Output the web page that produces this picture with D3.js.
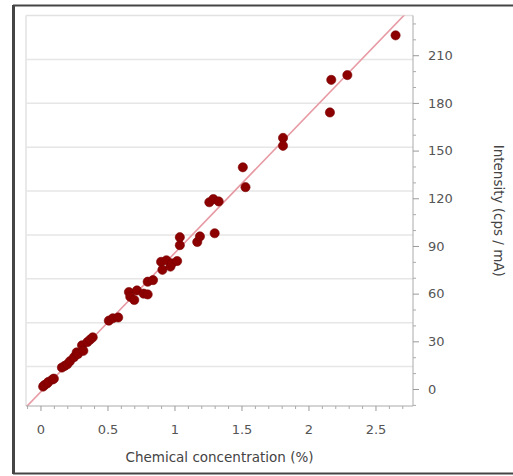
<!DOCTYPE html>
<html>
<head>
<meta charset="utf-8">
<script src="https://cdn.jsdelivr.net/npm/d3@7"></script>
<style>
  html, body { margin: 0; padding: 0; background: #fff; }
  svg { display: block; }
  text { font-family: "DejaVu Sans", Verdana, sans-serif; }
</style>
</head>
<body>
<svg id="chart" width="513" height="476"></svg>
<script>
// ---- data ----
const concentration = [0.02,0.03,0.05,0.06,0.09,0.10,0.16,0.18,0.20,0.22,0.25,0.27,0.28,0.31,0.32,0.35,0.37,0.39,
  0.51,0.54,0.58,0.66,0.67,0.70,0.72,0.77,0.80,0.80,0.84,0.90,0.91,0.94,0.97,0.98,1.02,1.04,1.04,1.17,1.19,1.30,
  1.26,1.29,1.33,1.51,1.53,1.81,1.81,2.16,2.17,2.29,2.65];
const intensity = [1.5,2.5,3.5,4.5,6,6.5,13.5,14.5,15.5,17.5,20,23,22,27.5,24,29.5,31,32.5,
  43,44.5,45,61,58,56,62,60,59.5,67.5,68.5,80,75,81,77,79,80.5,90.5,95.5,92.5,96,98,
  117.5,119.5,118,139.5,127,158,153,174,194.5,197.5,222.5];
const xTicks = [0, 0.5, 1, 1.5, 2, 2.5];
const xTickLabels = ["0", "0.5", "1", "1.5", "2", "2.5"];
const xMinorTicks = d3.range(-1, 28).map(i => i / 10);
const yTicks = [0, 30, 60, 90, 120, 150, 180, 210];
const yMinorTicks = d3.range(-1, 24).map(i => i * 10);
const gridSteps = [0, 1, 2, 3, 4, 5, 6, 7];
const fitSlope = 87.4;
const fitIntercept = -2.0;
const xTitle = "Chemical concentration (%)";
const yTitle = "Intensity (cps / mA)";

// ---- layout ----
const svg = d3.select("#chart");
const L = 26, R = 413, T = 15.5, B = 406;

const x = d3.scaleLinear().domain([-0.108, 2.78]).range([L, R]);
const y = d3.scaleLinear().domain([-10.7, 235]).range([B, T]);
const yGrid = d3.scaleLinear().domain([-0.9, 8]).range([B, T]);

// outer frame
svg.append("rect").attr("x", 14).attr("y", 5.5).attr("width", 520).attr("height", 468)
  .attr("fill", "none").attr("stroke", "#454545").attr("stroke-width", 2);
svg.append("line").attr("x1", 13.5).attr("x2", 13.5).attr("y1", 5).attr("y2", 474)
  .attr("stroke", "#454545").attr("stroke-width", 3);

// plot borders (left/top)
svg.append("line").attr("x1", L).attr("x2", L).attr("y1", T).attr("y2", B)
  .attr("stroke", "#e2e2e2").attr("stroke-width", 1.5);
svg.append("line").attr("x1", L).attr("x2", R).attr("y1", T).attr("y2", T)
  .attr("stroke", "#e2e2e2").attr("stroke-width", 1.5);

// gridlines
svg.append("g").selectAll("line").data(gridSteps).join("line")
  .attr("x1", L).attr("x2", R)
  .attr("y1", d => yGrid(d)).attr("y2", d => yGrid(d))
  .attr("stroke", "#e6e6e6").attr("stroke-width", 1.5);

// clip
svg.append("clipPath").attr("id", "clip").append("rect")
  .attr("x", L).attr("y", T).attr("width", R - L).attr("height", B - T);

// regression line
const xd = x.domain();
svg.append("line").attr("clip-path", "url(#clip)")
  .attr("x1", x(xd[0])).attr("y1", y(fitIntercept + fitSlope * xd[0]))
  .attr("x2", x(xd[1])).attr("y2", y(fitIntercept + fitSlope * xd[1]))
  .attr("stroke", "#e79aa4").attr("stroke-width", 1.6);

// points
const pts = concentration.map((c, i) => ({c, v: intensity[i]}));
svg.append("g").selectAll("circle").data(pts).join("circle")
  .attr("cx", d => x(d.c)).attr("cy", d => y(d.v)).attr("r", 4.6)
  .attr("fill", "#8c0000").attr("stroke", "#7a0000").attr("stroke-width", 0.6);

// x axis
const xMinor = svg.append("g").attr("transform", `translate(0,${B})`)
  .call(d3.axisBottom(x).tickValues(xMinorTicks.filter(v => !xTicks.some(t => Math.abs(t - v) < 1e-9))).tickSize(3).tickFormat(""));
xMinor.select(".domain").remove();
xMinor.selectAll("line").attr("stroke", "#aaa");
const xAx = svg.append("g").attr("transform", `translate(0,${B})`)
  .call(d3.axisBottom(x).tickValues(xTicks).tickSize(5).tickPadding(14)
    .tickFormat((d, i) => xTickLabels[i]));
xAx.select(".domain").attr("stroke", "#aaa").attr("d", `M${L},0H${R}`);
xAx.selectAll("line").attr("stroke", "#999");
xAx.selectAll("text").attr("fill", "#555").attr("font-size", 13);

// y axis (right)
const yMinor = svg.append("g").attr("transform", `translate(${R},0)`)
  .call(d3.axisRight(y).tickValues(yMinorTicks.filter(v => !yTicks.includes(v))).tickSize(3).tickFormat(""));
yMinor.select(".domain").remove();
yMinor.selectAll("line").attr("stroke", "#aaa");
const yAx = svg.append("g").attr("transform", `translate(${R},0)`)
  .call(d3.axisRight(y).tickValues(yTicks).tickSize(6).tickPadding(9));
yAx.select(".domain").attr("stroke", "#aaa").attr("d", `M0,${T}V${B}`);
yAx.selectAll("line").attr("stroke", "#999");
yAx.selectAll("text").attr("fill", "#555").attr("font-size", 13);

// titles
svg.append("text").attr("x", (L + R) / 2).attr("y", 462).attr("text-anchor", "middle")
  .attr("font-size", 13.5).attr("fill", "#444").text(xTitle);
svg.append("text").attr("transform", `translate(494,${(T + B) / 2}) rotate(90)`)
  .attr("text-anchor", "middle").attr("font-size", 13.5).attr("fill", "#444").text(yTitle);
</script>
</body>
</html>
